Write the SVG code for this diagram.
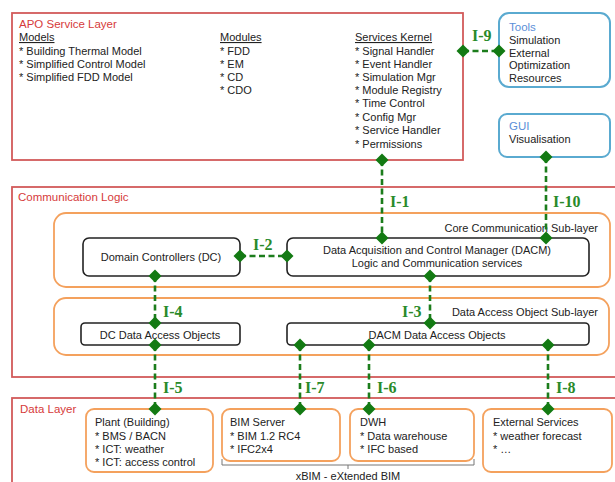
<svg xmlns="http://www.w3.org/2000/svg" width="615" height="482" viewBox="0 0 615 482">
<defs>
<style>
text{font-family:"Liberation Sans",Arial,sans-serif;font-size:11px;fill:#222}
.layer{fill:none;stroke:#d25a5a;stroke-width:1.8}
.ltitle{fill:#d63a3a;font-size:11.5px}
.blue{fill:none;stroke:#5aaad0;stroke-width:2}
.btitle{fill:#5b8fd8;font-size:11.5px}
.sub{fill:none;stroke:#f4a15d;stroke-width:1.8}
.box{fill:#fff;stroke:#222;stroke-width:1.6}
.obox{fill:#fff;stroke:#f4a15d;stroke-width:1.8}
.u{text-decoration:underline}
.c{text-anchor:middle}
.r{text-anchor:end}
.conn{stroke:#1c7d1c;stroke-width:2.6;stroke-dasharray:6,3.5;fill:none}
.lbl{font-family:"Liberation Serif","Times New Roman",serif;font-weight:bold;font-size:16px;fill:#2a8a2a}
.dia{fill:#137a13}
</style>
<path id="d" d="M0,-6.5 L6.5,0 L0,6.5 L-6.5,0 Z"/>
</defs>
<rect width="615" height="482" fill="#fff"/>

<g id="apo-layer">
<rect class="layer" x="12" y="13" width="451" height="147"/>
<text class="ltitle" x="19" y="28">APO Service Layer</text>
<text class="u" x="19" y="41">Models</text>
<text x="19" y="55">* Building Thermal Model</text>
<text x="19" y="68">* Simplified Control Model</text>
<text x="19" y="81">* Simplified FDD Model</text>
<text class="u" x="220" y="41">Modules</text>
<text x="220" y="55">* FDD</text>
<text x="220" y="68">* EM</text>
<text x="220" y="81">* CD</text>
<text x="220" y="94">* CDO</text>
<text class="u" x="355" y="41">Services Kernel</text>
<text x="355" y="55">* Signal Handler</text>
<text x="355" y="68">* Event Handler</text>
<text x="355" y="81">* Simulation Mgr</text>
<text x="355" y="94">* Module Registry</text>
<text x="355" y="107">* Time Control</text>
<text x="355" y="121">* Config Mgr</text>
<text x="355" y="134">* Service Handler</text>
<text x="355" y="148">* Permissions</text>
</g>

<g id="tools">
<rect class="blue" x="499" y="13" width="111" height="74" rx="10"/>
<text class="btitle" x="509" y="31">Tools</text>
<text x="509" y="44">Simulation</text>
<text x="509" y="57">External</text>
<text x="509" y="69">Optimization</text>
<text x="509" y="82">Resources</text>
</g>

<g id="gui">
<rect class="blue" x="499" y="114" width="111" height="43" rx="8"/>
<text class="btitle" x="509" y="130">GUI</text>
<text x="509" y="143">Visualisation</text>
</g>

<g id="communication-logic">
<rect class="layer" x="12" y="187" width="615" height="190"/>
<text class="ltitle" x="18" y="201">Communication Logic</text>
</g>

<g id="core-sublayer">
<rect class="sub" x="54" y="213" width="556" height="74" rx="12"/>
<text class="r" x="598" y="232">Core Communication Sub-layer</text>
</g>

<g id="dao-sublayer">
<rect class="sub" x="54" y="298" width="555" height="57" rx="12"/>
<text class="r" x="598" y="316">Data Access Object Sub-layer</text>
</g>

<g id="domain-controllers">
<rect class="box" x="83" y="238" width="157" height="38" rx="6"/>
<text class="c" x="161" y="261">Domain Controllers (DC)</text>
</g>

<g id="dacm">
<rect class="box" x="287" y="238" width="302" height="38" rx="6"/>
<text class="c" x="437" y="254">Data Acquisition and Control Manager (DACM)</text>
<text class="c" x="437" y="267">Logic and Communication services</text>
</g>

<g id="dc-dao">
<rect class="box" x="81" y="323" width="159" height="22" rx="4"/>
<text class="c" x="160" y="339">DC Data Access Objects</text>
</g>

<g id="dacm-dao">
<rect class="box" x="287" y="323" width="302" height="22" rx="4"/>
<text class="c" x="437" y="339">DACM Data Access Objects</text>
</g>

<g id="data-layer">
<rect class="layer" x="12" y="398" width="615" height="100"/>
<text class="ltitle" x="20" y="413">Data Layer</text>
</g>

<g id="plant">
<rect class="obox" x="86" y="409" width="127" height="63" rx="8"/>
<text x="95" y="426">Plant (Building)</text>
<text x="95" y="440">* BMS / BACN</text>
<text x="95" y="453">* ICT: weather</text>
<text x="95" y="466">* ICT: access control</text>
</g>

<g id="bim-server">
<rect class="obox" x="222" y="409" width="118" height="52" rx="8"/>
<text x="230" y="426">BIM Server</text>
<text x="230" y="440">* BIM 1.2 RC4</text>
<text x="230" y="453">* IFC2x4</text>
</g>

<g id="dwh">
<rect class="obox" x="350" y="409" width="124" height="52" rx="8"/>
<text x="360" y="426">DWH</text>
<text x="360" y="440">* Data warehouse</text>
<text x="360" y="453">* IFC based</text>
</g>

<g id="external-services">
<rect class="obox" x="483" y="409" width="129" height="63" rx="8"/>
<text x="493" y="426">External Services</text>
<text x="493" y="440">* weather forecast</text>
<text x="493" y="453">* …</text>
</g>

<g id="xbim">
<path d="M222,459 V465 H474 V459 M348,465 V469" fill="none" stroke="#777" stroke-width="1"/>
<text class="c" x="348" y="480">xBIM - eXtended BIM</text>
</g>

<g id="connectors">
<path class="conn" d="M463,51 H499"/>
<use href="#d" class="dia" x="463" y="51"/><use href="#d" class="dia" x="499" y="51"/>
<text class="lbl" x="472" y="41">I-9</text>

<path class="conn" d="M382,160 V238"/>
<use href="#d" class="dia" x="382" y="160"/><use href="#d" class="dia" x="382" y="238"/>
<text class="lbl" x="390" y="207">I-1</text>

<path class="conn" d="M546,157 V238"/>
<use href="#d" class="dia" x="546" y="157"/><use href="#d" class="dia" x="546" y="238"/>
<text class="lbl" x="553" y="207">I-10</text>

<path class="conn" d="M240,256 H287"/>
<use href="#d" class="dia" x="240" y="256"/><use href="#d" class="dia" x="287" y="256"/>
<text class="lbl" x="253" y="250">I-2</text>

<path class="conn" d="M155,276 V323"/>
<use href="#d" class="dia" x="155" y="276"/><use href="#d" class="dia" x="155" y="323"/>
<text class="lbl" x="163" y="317">I-4</text>

<path class="conn" d="M430,276 V323"/>
<use href="#d" class="dia" x="430" y="276"/><use href="#d" class="dia" x="430" y="323"/>
<text class="lbl" x="402" y="317">I-3</text>

<path class="conn" d="M155,345 V409"/>
<use href="#d" class="dia" x="155" y="345"/><use href="#d" class="dia" x="155" y="409"/>
<text class="lbl" x="163" y="393">I-5</text>

<path class="conn" d="M300,345 V409"/>
<use href="#d" class="dia" x="300" y="345"/><use href="#d" class="dia" x="300" y="409"/>
<text class="lbl" x="305" y="393">I-7</text>

<path class="conn" d="M369,345 V409"/>
<use href="#d" class="dia" x="369" y="345"/><use href="#d" class="dia" x="369" y="409"/>
<text class="lbl" x="377" y="393">I-6</text>

<path class="conn" d="M548,345 V409"/>
<use href="#d" class="dia" x="548" y="345"/><use href="#d" class="dia" x="548" y="409"/>
<text class="lbl" x="556" y="393">I-8</text>
</g>
</svg>
